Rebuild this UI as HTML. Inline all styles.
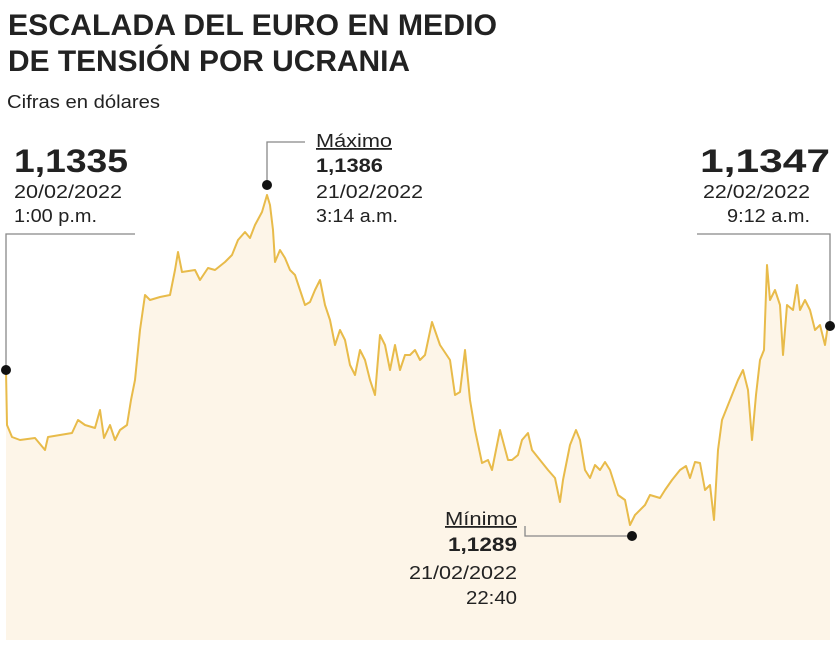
<!DOCTYPE html>
<html><head><meta charset="utf-8"><style>
body{margin:0;background:#fff;width:837px;height:667px;overflow:hidden}
svg text{font-family:"Liberation Sans",sans-serif;fill:#222}
</style></head><body>
<svg width="837" height="667" xmlns="http://www.w3.org/2000/svg">
<text x="8" y="35" font-size="30" font-weight="bold" fill="#1a1a1a" textLength="489" lengthAdjust="spacingAndGlyphs">ESCALADA DEL EURO EN MEDIO</text>
<text x="8" y="71" font-size="30" font-weight="bold" fill="#1a1a1a" textLength="402" lengthAdjust="spacingAndGlyphs">DE TENSIÓN POR UCRANIA</text>
<text x="7" y="108" font-size="18" fill="#444" textLength="153" lengthAdjust="spacingAndGlyphs">Cifras en dólares</text>
<polygon fill="#fdf5e8" points="6,370 7,425 12,437 20,440 35,438 45,450 48,437 60,435 72,433 78,420 85,425 95,428 100,410 104,438 110,425 115,440 120,430 127,425 131,400 135,380 140,330 145,295 150,300 160,297 170,295 175,270 178,252 182,272 195,270 200,280 208,268 215,270 225,262 232,255 238,240 245,232 250,238 255,225 262,212 267,195 270,205 273,230 275,262 280,250 285,258 290,270 295,275 300,290 305,305 310,302 315,290 320,280 325,305 330,320 335,345 340,330 345,340 350,365 355,375 360,350 365,360 370,380 375,395 380,335 385,345 390,370 395,345 400,370 405,355 410,355 415,350 420,360 425,355 432,322 440,345 450,360 455,395 460,392 465,350 470,400 475,430 482,463 488,460 492,470 500,430 508,460 512,460 518,455 522,440 528,433 532,450 540,460 548,470 555,478 560,502 563,480 570,445 576,430 580,440 585,470 590,478 595,465 600,470 605,462 610,470 618,495 625,500 630,525 635,515 645,505 650,495 660,498 665,490 672,480 680,470 686,466 690,478 695,462 700,463 705,490 710,485 714,520 718,450 722,420 730,400 738,380 743,370 748,390 752,440 756,395 760,360 764,350 767,265 770,300 775,290 780,305 783,355 787,305 793,310 797,285 800,310 805,300 810,310 815,330 820,325 825,345 828,325 830,326 830,640 6,640"/>
<polyline fill="none" stroke="#e8bb4a" stroke-width="2" stroke-linejoin="round" points="6,370 7,425 12,437 20,440 35,438 45,450 48,437 60,435 72,433 78,420 85,425 95,428 100,410 104,438 110,425 115,440 120,430 127,425 131,400 135,380 140,330 145,295 150,300 160,297 170,295 175,270 178,252 182,272 195,270 200,280 208,268 215,270 225,262 232,255 238,240 245,232 250,238 255,225 262,212 267,195 270,205 273,230 275,262 280,250 285,258 290,270 295,275 300,290 305,305 310,302 315,290 320,280 325,305 330,320 335,345 340,330 345,340 350,365 355,375 360,350 365,360 370,380 375,395 380,335 385,345 390,370 395,345 400,370 405,355 410,355 415,350 420,360 425,355 432,322 440,345 450,360 455,395 460,392 465,350 470,400 475,430 482,463 488,460 492,470 500,430 508,460 512,460 518,455 522,440 528,433 532,450 540,460 548,470 555,478 560,502 563,480 570,445 576,430 580,440 585,470 590,478 595,465 600,470 605,462 610,470 618,495 625,500 630,525 635,515 645,505 650,495 660,498 665,490 672,480 680,470 686,466 690,478 695,462 700,463 705,490 710,485 714,520 718,450 722,420 730,400 738,380 743,370 748,390 752,440 756,395 760,360 764,350 767,265 770,300 775,290 780,305 783,355 787,305 793,310 797,285 800,310 805,300 810,310 815,330 820,325 825,345 828,325"/>
<g fill="none" stroke="#888" stroke-width="1.3">
<polyline points="6,370 6,234 135,234"/>
<polyline points="830,326 830,234 697,234"/>
<polyline points="267,185 267,142 305,142"/>
<polyline points="632,536 525,536 525,526"/>
</g>
<g fill="#111">
<circle cx="6" cy="370" r="5"/><circle cx="830" cy="326" r="5"/>
<circle cx="267" cy="185" r="5"/><circle cx="632" cy="536" r="5"/>
</g>
<g lengthAdjust="spacingAndGlyphs">
<text x="14" y="172" font-size="32" font-weight="bold" fill="#1a1a1a" textLength="114" lengthAdjust="spacingAndGlyphs">1,1335</text>
<text x="14" y="198" font-size="18" fill="#444" textLength="108" lengthAdjust="spacingAndGlyphs">20/02/2022</text>
<text x="14" y="222" font-size="18" fill="#444" textLength="83" lengthAdjust="spacingAndGlyphs">1:00 p.m.</text>
<text x="316" y="147" font-size="18" fill="#444" text-decoration="underline" textLength="76" lengthAdjust="spacingAndGlyphs">Máximo</text>
<text x="316" y="172" font-size="19" font-weight="bold" fill="#1a1a1a" textLength="67" lengthAdjust="spacingAndGlyphs">1,1386</text>
<text x="316" y="198" font-size="18" fill="#444" textLength="107" lengthAdjust="spacingAndGlyphs">21/02/2022</text>
<text x="316" y="222" font-size="18" fill="#444" textLength="82" lengthAdjust="spacingAndGlyphs">3:14 a.m.</text>
<text x="700" y="172" font-size="32" font-weight="bold" fill="#1a1a1a" textLength="130" lengthAdjust="spacingAndGlyphs">1,1347</text>
<text x="703" y="198" font-size="18" fill="#444" textLength="107" lengthAdjust="spacingAndGlyphs">22/02/2022</text>
<text x="727" y="222" font-size="18" fill="#444" textLength="83" lengthAdjust="spacingAndGlyphs">9:12 a.m.</text>
<text x="445" y="525" font-size="18" fill="#444" text-decoration="underline" textLength="72" lengthAdjust="spacingAndGlyphs">Mínimo</text>
<text x="448" y="551" font-size="19" font-weight="bold" fill="#1a1a1a" textLength="69" lengthAdjust="spacingAndGlyphs">1,1289</text>
<text x="409" y="579" font-size="18" fill="#444" textLength="108" lengthAdjust="spacingAndGlyphs">21/02/2022</text>
<text x="466" y="604" font-size="18" fill="#444" textLength="51" lengthAdjust="spacingAndGlyphs">22:40</text>
</g>
</svg>
</body></html>
